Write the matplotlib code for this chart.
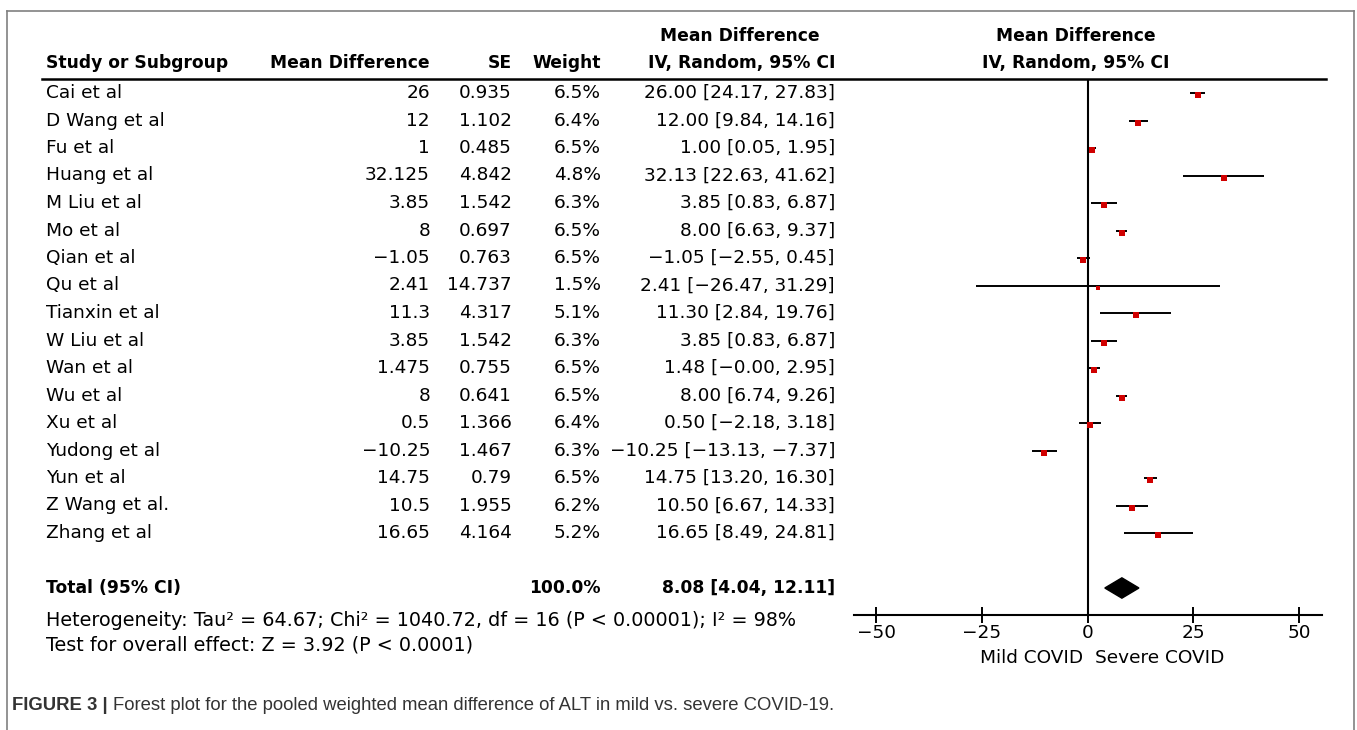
import matplotlib
matplotlib.use('Agg')
import matplotlib.pyplot as plt
import matplotlib.transforms as mtransforms
from matplotlib.lines import Line2D
from matplotlib.patches import Polygon
from decimal import Decimal, ROUND_HALF_UP

studies = ['Cai et al', 'D Wang et al', 'Fu et al', 'Huang et al', 'M Liu et al', 'Mo et al',
           'Qian et al', 'Qu et al', 'Tianxin et al', 'W Liu et al', 'Wan et al', 'Wu et al',
           'Xu et al', 'Yudong et al', 'Yun et al', 'Z Wang et al.', 'Zhang et al']
mean_diff = [26, 12, 1, 32.125, 3.85, 8, -1.05, 2.41, 11.3, 3.85, 1.475, 8, 0.5, -10.25, 14.75, 10.5, 16.65]
se = [0.935, 1.102, 0.485, 4.842, 1.542, 0.697, 0.763, 14.737, 4.317, 1.542, 0.755, 0.641, 1.366,
      1.467, 0.79, 1.955, 4.164]
weight = [6.5, 6.4, 6.5, 4.8, 6.3, 6.5, 6.5, 1.5, 5.1, 6.3, 6.5, 6.5, 6.4, 6.3, 6.5, 6.2, 5.2]
ci_lo = [24.17, 9.84, 0.05, 22.63, 0.83, 6.63, -2.55, -26.47, 2.84, 0.83, -0.0, 6.74, -2.18, -13.13,
         13.20, 6.67, 8.49]
ci_hi = [27.83, 14.16, 1.95, 41.62, 6.87, 9.37, 0.45, 31.29, 19.76, 6.87, 2.95, 9.26, 3.18, -7.37,
         16.30, 14.33, 24.81]

total_md = 8.08
total_lo = 4.04
total_hi = 12.11
total_weight = 100.0

x_ticks = [-50, -25, 0, 25, 50]
heterogeneity = 'Heterogeneity: Tau² = 64.67; Chi² = 1040.72, df = 16 (P < 0.00001); I² = 98%'
overall = 'Test for overall effect: Z = 3.92 (P < 0.0001)'
left_label = 'Mild COVID'
right_label = 'Severe COVID'


def fmt2(v):
    return str(Decimal(str(v)).quantize(Decimal('0.01'), rounding=ROUND_HALF_UP)).replace('-', '\u2212')


def fmtg(v):
    return '{:g}'.format(v).replace('-', '\u2212')


W, H = 1357, 730
plt.rcParams['font.family'] = ['DejaVu Sans']
fs = 13.3
fs_b = 12.3

fig = plt.figure(figsize=(W / 100, H / 100), dpi=100)

# rows: first study at 93 px, step 27.5 px, plot axis at 615 px, header rule at 79 px
top_px, bot_px = 79, 615
row0, step = 93, 27.5
ylim = ((bot_px - row0) / step, (top_px - row0) / step)
ax_bottom = (H - bot_px) / H
ax_height = (bot_px - top_px) / H

ax_tab = fig.add_axes([0, ax_bottom, 1, ax_height])
ax_tab.set_xlim(0, W)
ax_tab.set_ylim(*ylim)
ax_tab.axis('off')

x_left = 46
x_md, x_se, x_wt, x_ci = 430, 512, 601, 835
x_plot0 = 854
x_plot1 = 1322

# header
hdr2 = -1.1
hdr1 = -2.08
bold = dict(fontsize=fs_b, fontweight='bold', va='center')
ax_tab.text(x_left, hdr2, 'Study or Subgroup', ha='left', **bold)
ax_tab.text(x_md, hdr2, 'Mean Difference', ha='right', **bold)
ax_tab.text(x_se, hdr2, 'SE', ha='right', **bold)
ax_tab.text(x_wt, hdr2, 'Weight', ha='right', **bold)
ax_tab.text(740, hdr1, 'Mean Difference', ha='center', **bold)
ax_tab.text(x_ci, hdr2, 'IV, Random, 95% CI', ha='right', **bold)
ax_tab.text(1076, hdr1, 'Mean Difference', ha='center', **bold)
ax_tab.text(1076, hdr2, 'IV, Random, 95% CI', ha='center', **bold)
ax_tab.plot([42, 1326], [ylim[1], ylim[1]], color='black', lw=1.8, clip_on=False)

for i, name in enumerate(studies):
    ax_tab.text(x_left, i, name, ha='left', va='center', fontsize=fs)
    ax_tab.text(x_md, i, fmtg(mean_diff[i]), ha='right', va='center', fontsize=fs)
    ax_tab.text(x_se, i, fmtg(se[i]), ha='right', va='center', fontsize=fs)
    ax_tab.text(x_wt, i, '{:.1f}%'.format(weight[i]), ha='right', va='center', fontsize=fs)
    ax_tab.text(x_ci, i, '{} [{}, {}]'.format(fmt2(mean_diff[i]), fmt2(ci_lo[i]), fmt2(ci_hi[i])),
                ha='right', va='center', fontsize=fs)

y_tot = len(studies) + 1
ax_tab.text(x_left, y_tot, 'Total (95% CI)', ha='left', **bold)
ax_tab.text(x_wt, y_tot, '{:.1f}%'.format(total_weight), ha='right', **bold)
ax_tab.text(x_ci, y_tot, '{} [{}, {}]'.format(fmt2(total_md), fmt2(total_lo), fmt2(total_hi)),
            ha='right', **bold)
ax_tab.text(x_left, y_tot + 1.17, heterogeneity, ha='left', va='center', fontsize=13.8)
ax_tab.text(x_left, y_tot + 2.07, overall, ha='left', va='center', fontsize=13.8)

# forest plot
ax = fig.add_axes([x_plot0 / W, ax_bottom, (x_plot1 - x_plot0) / W, ax_height])
ax.patch.set_visible(False)
ax.set_xlim(-55.27, 55.4)
ax.set_ylim(*ylim)
for s in ['top', 'right', 'left']:
    ax.spines[s].set_visible(False)
ax.spines['bottom'].set_linewidth(1.5)
ax.set_yticks([])
ax.set_xticks(x_ticks)
ax.set_xticklabels([fmtg(t) for t in x_ticks])
ax.tick_params(axis='x', direction='inout', length=11, width=1.4, pad=1, labelsize=fs)
ax.axvline(0, color='black', lw=1.5)

sq_off = mtransforms.offset_copy(ax.transData, fig=fig, x=0, y=-2, units='dots')
for i in range(len(studies)):
    ax.plot([ci_lo[i], ci_hi[i]], [i, i], color='black', lw=1.4, solid_capstyle='butt')
    ax.plot(mean_diff[i], i, marker='s', color='#d00000', markersize=weight[i] ** 0.5 * 1.9,
            markeredgewidth=0, transform=sq_off)

dh = 0.37
ax.add_patch(Polygon([[total_lo, y_tot], [total_md, y_tot - dh], [total_hi, y_tot],
                      [total_md, y_tot + dh]], closed=True, color='black', clip_on=False))

ax.text(-1.0, y_tot + 2.55, left_label, ha='right', va='center', fontsize=fs)
ax.text(1.8, y_tot + 2.55, right_label, ha='left', va='center', fontsize=fs)

# frame round the figure panel
frame = dict(color='#808080', lw=1.2)
fig.add_artist(Line2D([7 / W, 7 / W], [0, 1 - 11 / H], **frame))
fig.add_artist(Line2D([1354 / W, 1354 / W], [0, 1 - 11 / H], **frame))
fig.add_artist(Line2D([7 / W, 1354 / W], [1 - 11 / H, 1 - 11 / H], **frame))

# caption
cap = fig.text(12 / W, 1 - 706 / H, 'FIGURE 3 | ', ha='left', va='center', fontsize=13.3,
               fontweight='bold', family='Liberation Sans', color='#333333')
ax_tab.annotate('Forest plot for the pooled weighted mean difference of ALT in mild vs. severe COVID-19.',
                xy=(1, 0.5), xycoords=cap, ha='left', va='center', fontsize=13.3,
                family='Liberation Sans', color='#333333')

plt.savefig('out.png', dpi=100)
